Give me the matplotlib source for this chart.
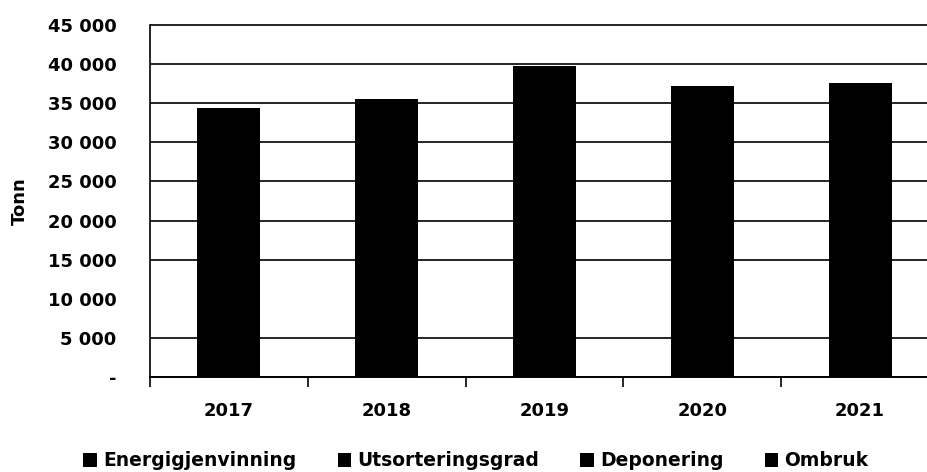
import matplotlib.pyplot as plt
from matplotlib.ticker import FuncFormatter, FixedLocator

years = ["2017", "2018", "2019", "2020", "2021"]
series = ["Energigjenvinning", "Utsorteringsgrad", "Deponering", "Ombruk"]
energi = [4100, 4200, 4300, 4200, 4200]
utsort = [6000, 5900, 5800, 5900, 5900]
depon = [20500, 17300, 15300, 23400, 17400]
ombruk = [3800, 8100, 14400, 3750, 10100]
yticks = [0, 5000, 10000, 15000, 20000, 25000, 30000, 35000, 40000, 45000]
# the 10 000 line and tick are missing in the original
gridvals = [0, 5000, 15000, 20000, 25000, 30000, 35000, 40000, 45000]

plt.rcParams['font.family'] = ['DejaVu Sans']
plt.rcParams['font.weight'] = 'bold'

fig = plt.figure(figsize=(9.27, 4.72), dpi=100)
ax = fig.add_axes([150 / 927, 1 - 377 / 472, 789 / 927, 352 / 472])

x = list(range(len(years)))
bottom = [0] * len(years)
for name, vals in zip(series, [energi, utsort, depon, ombruk]):
    ax.bar(x, vals, width=0.4, bottom=bottom, color='black', label=name, zorder=3)
    bottom = [b + v for b, v in zip(bottom, vals)]

ax.set_xlim(-0.5, 4.5)
ax.set_ylim(0, 45000)
ax.set_yticks(yticks)
ax.yaxis.set_minor_locator(FixedLocator(gridvals))

def fmt(v, pos):
    if v == 0:
        return "-"
    return "{:,}".format(int(v)).replace(",", " ")

ax.yaxis.set_major_formatter(FuncFormatter(fmt))
ax.hlines(gridvals, -0.5, 4.5, color='black', linewidth=1.2, zorder=1, clip_on=False)

ax.set_xticks(x)
ax.set_xticklabels(years)
ax.xaxis.set_minor_locator(FixedLocator([i - 0.5 for i in range(len(years) + 1)]))
ax.tick_params(axis='x', which='major', length=0, pad=18, labelsize=13)
ax.tick_params(axis='x', which='minor', length=7, width=1.2, color='black')
ax.tick_params(axis='y', which='major', length=0, labelsize=13, pad=24)
ax.tick_params(axis='y', which='minor', length=7, width=1.2, color='black')

for s in ['top', 'right']:
    ax.spines[s].set_visible(False)
ax.spines['left'].set_linewidth(1.2)
ax.spines['bottom'].set_linewidth(1.2)

ax.set_ylabel("Tonn", fontsize=13, fontweight='bold', labelpad=14)

fig.legend(loc='center', bbox_to_anchor=(476 / 927, 1 - 461 / 472), ncol=4, frameon=False,
           handlelength=0.7, handleheight=0.7, handletextpad=0.35, columnspacing=2.2,
           prop={'size': 13.5, 'weight': 'bold'})

fig.savefig("out.png", dpi=100)
